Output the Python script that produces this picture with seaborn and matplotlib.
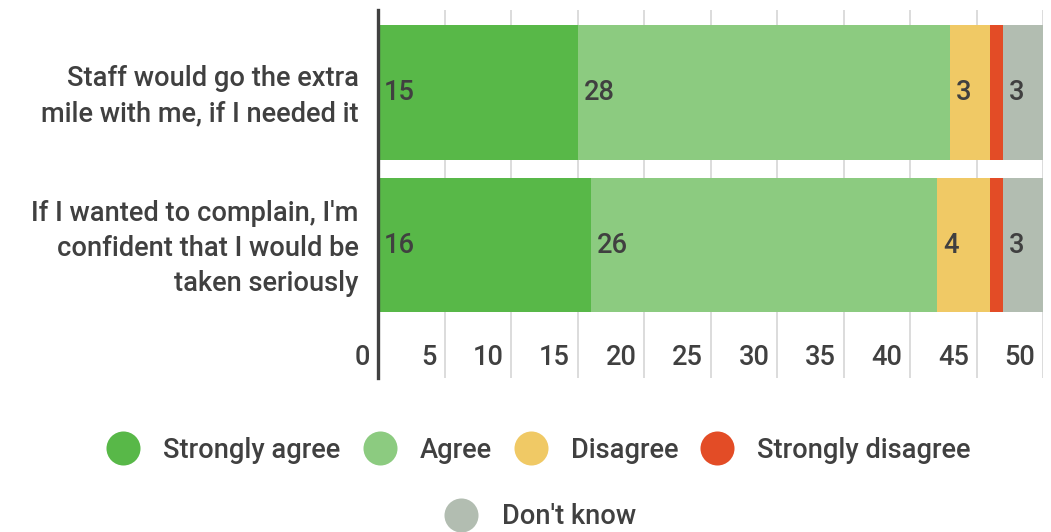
import matplotlib
matplotlib.use("Agg")
import matplotlib.pyplot as plt
import matplotlib.transforms as mtransforms
from matplotlib.lines import Line2D
import numpy as np
import pandas as pd
import seaborn as sns

# Survey statements and response counts
statements = [
    "Staff would go the extra\nmile with me, if I needed it",
    "If I wanted to complain, I'm\nconfident that I would be\ntaken seriously",
]
responses = ["Strongly agree", "Agree", "Disagree", "Strongly disagree", "Don't know"]
strongly_agree = [15, 16]
agree = [28, 26]
disagree = [3, 4]
strongly_disagree = [1, 1]
dont_know = [3, 3]
x_ticks = [0, 5, 10, 15, 20, 25, 30, 35, 40, 45, 50]

colors = ["#58b848", "#8ccb80", "#f0c965", "#e34c26", "#b2bdb1"]
text_color = "#404040"
fs = 19.6

sns.set_theme(style="white")
plt.rcParams["font.family"] = ["Roboto", "DejaVu Sans"]
plt.rcParams["font.weight"] = "medium"

fig = plt.figure(figsize=(10.51, 5.32), dpi=100)
W, H = 1051, 532
ax = fig.add_axes([378 / W, 1 - 378 / H, 665 / W, 368 / H])

counts = np.array([strongly_agree, agree, disagree, strongly_disagree, dont_know])
cumulative = counts.cumsum(axis=0)
df = pd.DataFrame({"statement": statements})

# Stacked bars: draw cumulative totals from the outermost segment inwards
for i in reversed(range(len(responses))):
    df["value"] = cumulative[i]
    sns.barplot(data=df, x="value", y="statement", order=statements, orient="h",
                color=colors[i], saturation=1, width=0.885, linewidth=0,
                edgecolor="none", ax=ax, zorder=2)

# Segment value labels at the left edge of each segment
starts = cumulative - counts
for i in range(len(responses)):
    for j in range(len(statements)):
        v = counts[i, j]
        if v > 1:
            ax.annotate(str(v), xy=(starts[i, j], j), xytext=(4.5, 0),
                        textcoords="offset points", ha="left", va="center",
                        fontsize=fs, color=text_color, zorder=3)

ax.set_xlim(0, 50)
ax.set_ylim(1.872, -0.541)
ax.set_xlabel("")
ax.set_ylabel("")

# Grid and spines
ax.set_axisbelow(True)
ax.xaxis.grid(True, color="#d9d9d9", linewidth=1.3)
ax.yaxis.grid(False)
for side in ["top", "right", "bottom"]:
    ax.spines[side].set_visible(False)
ax.spines["left"].set_color("#404040")
ax.spines["left"].set_linewidth(2.4)
ax.spines["left"].set_zorder(4)

# X tick labels sit inside the plot area, just left of each gridline
ax.set_xticks(x_ticks, labels=[str(t) for t in x_ticks])
ax.tick_params(axis="x", length=0, pad=-15, labelsize=fs, labelcolor=text_color)
shift = mtransforms.ScaledTranslation(-7.5 / 100, 0, fig.dpi_scale_trans)
for lab in ax.get_xticklabels():
    lab.set_horizontalalignment("right")
    lab.set_verticalalignment("center")
    lab.set_transform(lab.get_transform() + shift)

ax.tick_params(axis="y", length=0, pad=14, labelsize=fs, labelcolor=text_color)
lift = mtransforms.ScaledTranslation(0, 3.5 / 100, fig.dpi_scale_trans)
for lab in ax.get_yticklabels():
    lab.set_linespacing(1.38)
    lab.set_transform(lab.get_transform() + lift)

# Legend: four entries on the first row, one centred below
handles = [Line2D([], [], marker="o", linestyle="", markersize=24.5,
                  markerfacecolor=c, markeredgewidth=0) for c in colors]
common = dict(loc="center", frameon=False, fontsize=fs, handlelength=1.25,
              handletextpad=0.85, columnspacing=0.8, labelcolor=text_color,
              borderpad=0, borderaxespad=0)
fig.legend(handles[:4], responses[:4], ncol=4,
           bbox_to_anchor=(538.5 / W, 1 - 450 / H), **common)
fig.legend(handles[4:], responses[4:], ncol=1,
           bbox_to_anchor=(540 / W, 1 - 517 / H), **common)

fig.savefig("out.png", dpi=100)
